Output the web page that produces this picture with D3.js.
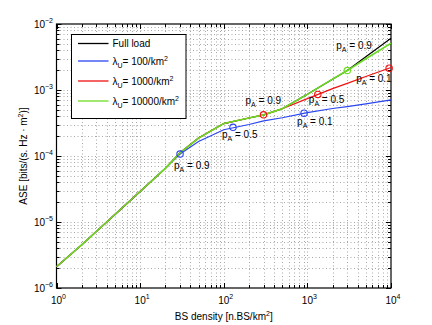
<!DOCTYPE html>
<html>
<head>
<meta charset="utf-8">
<script src="https://cdn.jsdelivr.net/npm/d3@7"></script>
<style>
  body { margin: 0; background: #fff; }
  text { font-family: "Liberation Sans", Arial, sans-serif; fill: #000; }
</style>
</head>
<body>
<div id="chart"></div>
<script>
// values
var bsDensity = [1, 2, 5, 10, 20, 30, 50, 100, 200, 300, 500, 1000, 2000, 3000, 5000, 10000];
var aseFullLoad = [2.1e-6, 4.5e-6, 1.3e-5, 2.9e-5, 6.5e-5, 1.12e-4, 1.87e-4, 3.1e-4, 3.77e-4, 4.2e-4, 5.2e-4, 8.6e-4, 1.46e-3, 1.97e-3, 3.2e-3, 6.1e-3];
var aseU100 = [2.1e-6, 4.5e-6, 1.3e-5, 2.9e-5, 6.5e-5, 1.07e-4, 1.66e-4, 2.5e-4, 3.0e-4, 3.4e-4, 3.8e-4, 4.55e-4, 5.25e-4, 5.6e-4, 6.15e-4, 7.1e-4];
var aseU1000 = [2.1e-6, 4.5e-6, 1.3e-5, 2.9e-5, 6.5e-5, 1.12e-4, 1.87e-4, 3.1e-4, 3.77e-4, 4.2e-4, 5.2e-4, 7.4e-4, 1.05e-3, 1.26e-3, 1.6e-3, 2.19e-3];
var aseU10000 = [2.1e-6, 4.5e-6, 1.3e-5, 2.9e-5, 6.5e-5, 1.12e-4, 1.87e-4, 3.1e-4, 3.77e-4, 4.2e-4, 5.2e-4, 8.6e-4, 1.46e-3, 1.97e-3, 2.97e-3, 5.1e-3];

var seriesNames = ["Full load", "100", "1000", "10000"];
var seriesColors = ["#000000", "#2a46f2", "#f01010", "#6cdc22"];
var seriesWidths = [1.2, 1.2, 1.2, 1.6];

// circle markers with p_A annotations
var markerSeries = [1, 1, 1, 2, 2, 2, 3];
var markerDensity = [30, 129, 913, 299, 1333, 9500, 3000];
var markerAse = [1.07e-4, 2.72e-4, 4.45e-4, 4.2e-4, 8.57e-4, 2.14e-3, 1.97e-3];
var markerPA = ["0.9", "0.5", "0.1", "0.9", "0.5", "0.1", "0.9"];

var xTicks = [1, 10, 100, 1000, 10000];
var yTicks = [1e-6, 1e-5, 1e-4, 1e-3, 1e-2];

var W = 432, H = 325;
var pLeft = 56.5, pRight = 391, pTop = 24, pBottom = 288;

var svg = d3.select("#chart").append("svg")
    .attr("width", W).attr("height", H);

var x = d3.scaleLog().domain([1, 1e4]).range([pLeft, pRight]);
var y = d3.scaleLog().domain([1e-6, 1e-2]).range([pBottom, pTop]);

var allSeries = [aseFullLoad, aseU100, aseU1000, aseU10000];

// dotted grid (major + minor)
var grid = svg.append("g").attr("stroke", "#a8a8a8").attr("stroke-width", 1)
    .attr("stroke-dasharray", "1,2.5");
x.ticks().forEach(function(t) {
  if (t <= 1 || t >= 1e4) return;
  var px = Math.round(x(t)) + 0.5;
  grid.append("line").attr("x1", px).attr("x2", px).attr("y1", pTop).attr("y2", pBottom);
});
y.ticks().forEach(function(t) {
  if (t <= 1e-6 * 1.0001 || t >= 1e-2 * 0.9999) return;
  var py = Math.round(y(t)) + 0.5;
  grid.append("line").attr("x1", pLeft).attr("x2", pRight).attr("y1", py).attr("y2", py);
});

// tick marks, inward on all four sides
var tk = svg.append("g").attr("stroke", "#000").attr("stroke-width", 1);
x.ticks().forEach(function(t) {
  var px = Math.round(x(t)) + 0.5;
  var len = xTicks.indexOf(t) >= 0 ? 5 : 3;
  tk.append("line").attr("x1", px).attr("x2", px).attr("y1", pBottom).attr("y2", pBottom - len);
  tk.append("line").attr("x1", px).attr("x2", px).attr("y1", pTop).attr("y2", pTop + len);
});
y.ticks().forEach(function(t) {
  var py = Math.round(y(t)) + 0.5;
  var major = yTicks.some(function(v) { return Math.abs(v - t) / v < 1e-6; });
  var len = major ? 5 : 3;
  tk.append("line").attr("x1", pLeft).attr("x2", pLeft + len).attr("y1", py).attr("y2", py);
  tk.append("line").attr("x1", pRight).attr("x2", pRight - len).attr("y1", py).attr("y2", py);
});

// box
svg.append("rect")
    .attr("x", pLeft).attr("y", pTop)
    .attr("width", pRight - pLeft).attr("height", pBottom - pTop)
    .attr("fill", "none").attr("stroke", "#000").attr("stroke-width", 1.2);

// tick labels
function powLabel(sel, exp) {
  sel.append("tspan").text("10");
  sel.append("tspan").attr("dy", -5).attr("font-size", 7).text(exp);
}
xTicks.forEach(function(t) {
  var e = Math.round(Math.log10(t));
  var tx = svg.append("text").attr("x", x(t) + 2).attr("y", 304)
      .attr("text-anchor", "middle").attr("font-size", 10);
  powLabel(tx, String(e));
});
yTicks.forEach(function(t) {
  var e = Math.round(Math.log10(t));
  var ty = svg.append("text").attr("x", 53).attr("y", y(t) + 4)
      .attr("text-anchor", "end").attr("font-size", 10);
  powLabel(ty, "\u2212" + String(-e));
});

// axis titles
var xl = svg.append("text").attr("x", (pLeft + pRight) / 2).attr("y", 320)
    .attr("text-anchor", "middle").attr("font-size", 10);
xl.append("tspan").text("BS density [n.BS/km");
xl.append("tspan").attr("dy", -4).attr("font-size", 7).text("2");
xl.append("tspan").attr("dy", 4).text("]");

var yl = svg.append("text")
    .attr("transform", "translate(27," + ((pTop + pBottom) / 2) + ") rotate(-90)")
    .attr("text-anchor", "middle").attr("font-size", 10);
yl.append("tspan").text("ASE [bits/(s. Hz \u00b7 m");
yl.append("tspan").attr("dy", -4).attr("font-size", 7).text("2");
yl.append("tspan").attr("dy", 4).text(")]");

// curves
var line = d3.line()
    .x(function(d) { return x(d[0]); })
    .y(function(d) { return y(d[1]); });

allSeries.forEach(function(vals, i) {
  var pts = bsDensity.map(function(b, j) { return [b, vals[j]]; });
  svg.append("path").datum(pts)
      .attr("d", line)
      .attr("fill", "none")
      .attr("stroke", seriesColors[i])
      .attr("stroke-width", seriesWidths[i]);
});

// markers and p_A labels
var labelOffset = [[-6, 15], [-11, 11], [-7, 12], [-18, -11], [-9, 9], [-33, 14], [-11, -22]];
markerDensity.forEach(function(b, i) {
  var cx = x(b), cy = y(markerAse[i]);
  svg.append("circle").attr("cx", cx).attr("cy", cy).attr("r", 3.2)
      .attr("fill", "none").attr("stroke", seriesColors[markerSeries[i]]).attr("stroke-width", 1.1);
  var t = svg.append("text").attr("x", cx + labelOffset[i][0]).attr("y", cy + labelOffset[i][1])
      .attr("font-size", 10);
  t.append("tspan").text("p");
  t.append("tspan").attr("dy", 3).attr("font-size", 7).text("A");
  t.append("tspan").attr("dy", -3).text(" = " + markerPA[i]);
});

// legend
var lg = svg.append("g");
lg.append("rect").attr("x", 71.5).attr("y", 34.5).attr("width", 114.5).attr("height", 84)
    .attr("fill", "#fff").attr("stroke", "#000").attr("stroke-width", 1);
var rowY = [43.5, 61, 81, 101];
seriesNames.forEach(function(name, i) {
  lg.append("line").attr("x1", 78).attr("x2", 108.5).attr("y1", rowY[i]).attr("y2", rowY[i])
      .attr("stroke", seriesColors[i]).attr("stroke-width", 1.3);
  var t = lg.append("text").attr("x", 112.5).attr("y", rowY[i] + 3.5).attr("font-size", 10);
  if (i === 0) {
    t.text(name);
  } else {
    t.append("tspan").text("\u03bb");
    t.append("tspan").attr("dy", 3).attr("font-size", 7).text("U");
    t.append("tspan").attr("dy", -3).text("= " + name + "/km");
    t.append("tspan").attr("dy", -4).attr("font-size", 7).text("2");
  }
});
</script>
</body>
</html>
